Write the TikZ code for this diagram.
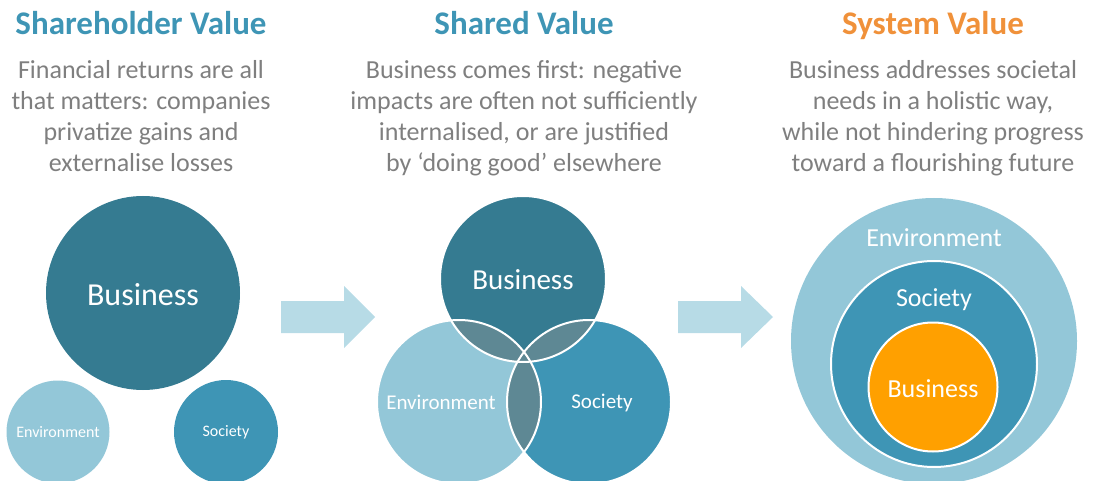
\documentclass[tikz,border=0pt]{standalone}
\usepackage{fontspec}
\setmainfont{Carlito}
\definecolor{bizc}{HTML}{357B91}
\definecolor{socc}{HTML}{3E95B5}
\definecolor{envc}{HTML}{93C7D8}
\definecolor{ovlc}{HTML}{5E8894}
\definecolor{orgc}{HTML}{FFA000}
\definecolor{ttlblue}{HTML}{3E95B5}
\definecolor{ttlorange}{HTML}{F0913A}
\definecolor{txtgray}{HTML}{7F7F7F}
\definecolor{arrc}{HTML}{B7DBE6}
\begin{document}
\begin{tikzpicture}[x=1pt,y=-1pt,
  ttl/.style={font=\bfseries\fontsize{33}{36}\selectfont, anchor=base, inner sep=0pt},
  desc/.style={font=\fontsize{26}{31}\selectfont, text=txtgray, align=center, anchor=base, inner sep=0pt},
  disc/.style={circle, inner sep=0pt, draw=none},
  lbl/.style={text=white, inner sep=0pt},
  ring/.style={draw=white, line width=2pt},
  arrowshape/.style={fill=arrc}]
\useasboundingbox (0,0) rectangle (1098,481);
\clip (0,0) rectangle (1098,481);

% titles
\node[ttl, text=ttlblue] (t1) at (141,35) {Shareholder Value};
\node[ttl, text=ttlblue] (t2) at (524,35) {Shared Value};
\node[ttl, text=ttlorange] (t3) at (933,35) {System Value};

% descriptions (anchor base = last line)
\node[desc] (d1) at (141,172) {Financial returns are all\\that matters: companies\\privatize gains and\\externalise losses};
\node[desc] (d2) at (524,172) {Business comes first: negative\\impacts are often not sufficiently\\internalised, or are justified\\by `doing good' elsewhere};
\node[desc] (d3) at (933,172) {Business addresses societal\\needs in a holistic way,\\while not hindering progress\\toward a flourishing future};

% panel 1
\node[disc, fill=bizc, minimum size=194pt] (b1) at (143,293) {};
\node[disc, fill=envc, minimum size=103pt] (e1) at (58,432) {};
\node[disc, fill=socc, minimum size=104pt] (s1) at (226,432) {};
\node[lbl, font=\fontsize{32}{36}\selectfont] (lb1) at (143,295) {Business};
\node[lbl, font=\fontsize{16}{19}\selectfont] (le1) at (58,432) {Environment};
\node[lbl, font=\fontsize{16}{19}\selectfont] (ls1) at (226,432) {Society};

% arrows
\fill[arrowshape] (281,301) -- (344,301) -- (344,286) -- (375,317) -- (344,348) -- (344,333) -- (281,333) -- cycle;
\fill[arrowshape] (678,301) -- (741,301) -- (741,286) -- (773,317) -- (741,348) -- (741,333) -- (678,333) -- cycle;

% panel 2 (Venn)
\node[disc, fill=bizc, minimum size=166pt] (b2) at (523,279) {};
\node[disc, fill=envc, minimum size=164pt] (e2) at (459,402) {};
\node[disc, fill=socc, minimum size=164pt] (s2) at (589,402) {};
\begin{scope}
  \clip (b2.center) circle (83pt);
  \fill[ovlc] (e2.center) circle (82pt);
  \fill[ovlc] (s2.center) circle (82pt);
\end{scope}
\begin{scope}
  \clip (e2.center) circle (82pt);
  \fill[ovlc] (s2.center) circle (82pt);
\end{scope}
\draw[ring] (b2.center) circle (83pt);
\draw[ring] (e2.center) circle (82pt);
\draw[ring] (s2.center) circle (82pt);
\node[lbl, font=\fontsize{29}{34}\selectfont] (lb2) at (523,280) {Business};
\node[lbl, font=\fontsize{21}{25}\selectfont] (le2) at (441,402) {Environment};
\node[lbl, font=\fontsize{21}{25}\selectfont] (ls2) at (602,403) {Society};

% panel 3 (nested)
\node[disc, fill=envc, minimum size=286pt] (e3) at (934,341) {};
\node[disc, fill=socc, minimum size=206pt, draw=white, line width=2pt] (s3) at (934,364) {};
\node[disc, fill=orgc, minimum size=129pt, draw=white, line width=2pt] (b3) at (933,387) {};
\node[lbl, font=\fontsize{26}{30}\selectfont] (le3) at (934,238) {Environment};
\node[lbl, font=\fontsize{26}{30}\selectfont] (ls3) at (934,300) {Society};
\node[lbl, font=\fontsize{26}{30}\selectfont] (lb3) at (933,389) {Business};
\end{tikzpicture}
\end{document}
